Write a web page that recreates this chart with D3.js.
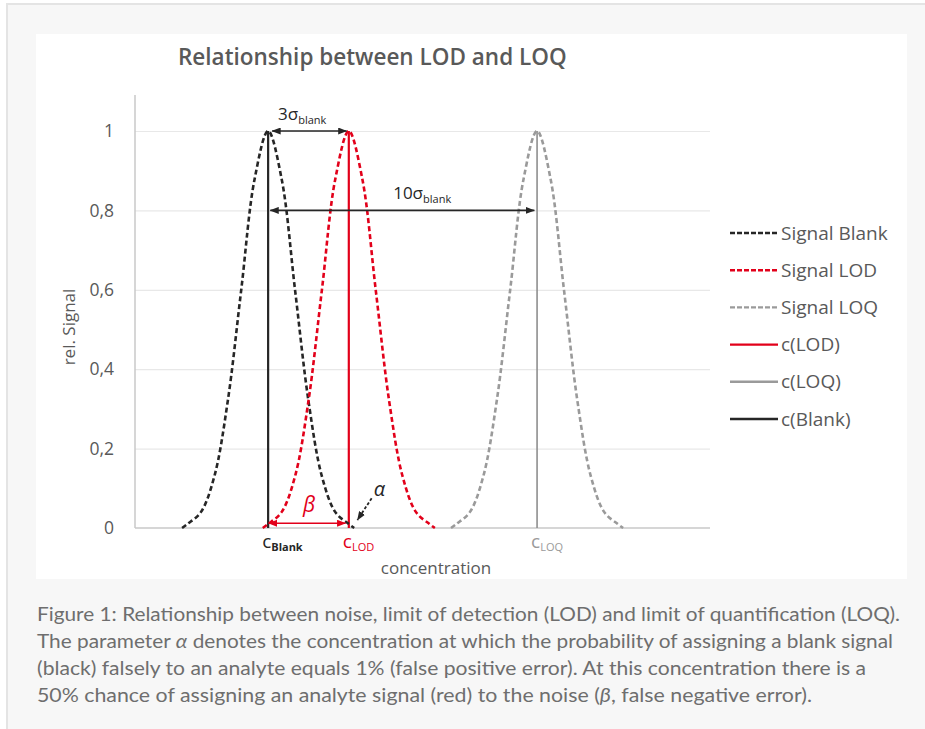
<!DOCTYPE html>
<html>
<head>
<meta charset="utf-8">
<script src="https://cdn.jsdelivr.net/npm/d3@7"></script>
<style>
	body { margin: 0; background: #fff; }
	svg { display: block; font-family: "Open Sans", Lato, sans-serif; }
</style>
</head>
<body>
<svg id="chart" width="925" height="729"></svg>
<script>

	// offsets from each peak centre (in sigma_blank) and the rel. signal read at them
	var sigmaOffsets = [-3.2, -3, -2.5, -2, -1.5, -1, -0.5, 0, 0.5, 1, 1.5, 2, 2.5, 3, 3.2];
	var signalBlank  = [0, 0.01, 0.04, 0.13, 0.32, 0.6, 0.88, 1, 0.88, 0.6, 0.32, 0.13, 0.04, 0.01, 0];
	var signalLOD    = [0, 0.01, 0.04, 0.13, 0.32, 0.6, 0.88, 1, 0.88, 0.6, 0.32, 0.13, 0.04, 0.01, 0];
	var signalLOQ    = [0, 0.01, 0.04, 0.13, 0.32, 0.6, 0.88, 1, 0.88, 0.6, 0.32, 0.13, 0.04, 0.01, 0];

	// peak centres on the concentration axis: blank, LOD, LOQ
	var concCentres = [0, 3, 10];

	var yTicks = [0, 0.2, 0.4, 0.6, 0.8, 1];
	var yTickLabels = ["0", "0,2", "0,4", "0,6", "0,8", "1"];

	var legendLabels = ["Signal Blank", "Signal LOD", "Signal LOQ", "c(LOD)", "c(LOQ)", "c(Blank)"];

	var captionLines = [
		["Figure 1: Relationship between noise, limit of detection (LOD) and limit of quantification (LOQ)."],
		["The parameter ", "α", " denotes the concentration at which the probability of assigning a blank signal"],
		["(black) falsely to an analyte equals 1% (false positive error). At this concentration there is a"],
		["50% chance of assigning an analyte signal (red) to the noise (", "β", ", false negative error)."]
	];
	var captionWidths = [863, 856, 829, 775];

	var BLACK = "#262626", RED = "#e2001a", GRAY = "#9a9a9a", TEXT = "#595959";

	var svg = d3.select("#chart");

	// page frame
	svg.append("rect").attr("x", 7).attr("y", 4).attr("width", 930).attr("height", 740)
		.attr("fill", "#f7f7f7").attr("stroke", "#e4e4e4").attr("stroke-width", 2);
	svg.append("rect").attr("x", 36).attr("y", 34).attr("width", 871).attr("height", 545)
		.attr("fill", "#fff");

	var x = d3.scaleLinear().domain([-4.95, 16.43]).range([135, 710]);
	var y = d3.scaleLinear().domain([0, 1]).range([528, 131]);

	var defs = svg.append("defs");
	function arrow_marker(id, color){
		defs.append("marker").attr("id", id)
			.attr("viewBox", "0 0 9 7").attr("refX", 8.5).attr("refY", 3.5)
			.attr("markerWidth", 9).attr("markerHeight", 7)
			.attr("markerUnits", "userSpaceOnUse")
			.attr("orient", "auto-start-reverse")
			.append("path").attr("d", "M0,0 L9,3.5 L0,7 Z").attr("fill", color);
	}
	arrow_marker("arr-black", BLACK);
	arrow_marker("arr-red", RED);

	// gridlines
	svg.append("g").attr("transform", "translate(135,0)")
		.call(d3.axisLeft(y).tickValues(yTicks.slice(1)).tickSize(-(710 - 135)).tickFormat(""))
		.call(function(g){ g.select(".domain").remove(); })
		.selectAll("line").attr("stroke", "#e8e8e8").attr("stroke-width", 1.2);

	// y tick labels
	svg.append("g").attr("transform", "translate(135,0)")
		.call(d3.axisLeft(y).tickValues(yTicks).tickSize(0).tickPadding(21)
			.tickFormat(function(d, i){ return yTickLabels[i]; }))
		.call(function(g){ g.select(".domain").remove(); })
		.selectAll("text").attr("fill", TEXT).style("font-size", "17.5px").style("font-family", "Open Sans");

	// axis lines
	svg.append("line").attr("x1", 135).attr("x2", 135).attr("y1", 95).attr("y2", y(0))
		.attr("stroke", "#c8c8c8").attr("stroke-width", 1.5);
	svg.append("line").attr("x1", 135).attr("x2", 710).attr("y1", y(0)).attr("y2", y(0))
		.attr("stroke", "#c8c8c8").attr("stroke-width", 1.5);

	// vertical concentration lines
	var vColors = [BLACK, RED, "#8e8e8e"];
	concCentres.forEach(function(c, i){
		svg.append("line").attr("x1", x(c)).attr("x2", x(c)).attr("y1", y(0)).attr("y2", y(1))
			.attr("stroke", vColors[i]).attr("stroke-width", i === 2 ? 1.6 : 2.2);
	});

	// signal curves
	var line = d3.line()
		.x(function(d){ return x(d[0]); })
		.y(function(d){ return y(d[1]); })
		.curve(d3.curveCatmullRom);

	var curves = [signalBlank, signalLOD, signalLOQ];
	var curveColors = [BLACK, RED, GRAY];
	curves.forEach(function(vals, i){
		var pts = sigmaOffsets.map(function(o, j){ return [concCentres[i] + o, vals[j]]; });
		svg.append("path").datum(pts).attr("d", line)
			.attr("fill", "none").attr("stroke", curveColors[i])
			.attr("stroke-width", 2.6).attr("stroke-dasharray", "5,3");
	});

	// 3 sigma arrow
	svg.append("line").attr("x1", x(0.15)).attr("x2", x(2.92)).attr("y1", y(1)).attr("y2", y(1))
		.attr("stroke", BLACK).attr("stroke-width", 1.6)
		.attr("marker-start", "url(#arr-black)").attr("marker-end", "url(#arr-black)");
	var t3 = svg.append("text").attr("x", x(0.37)).attr("y", y(1) - 11)
		.attr("fill", BLACK).style("font-size", "17px");
	t3.append("tspan").text("3σ");
	t3.append("tspan").attr("dy", 4).style("font-size", "11px").text("blank");

	// 10 sigma arrow
	svg.append("line").attr("x1", x(0.08)).attr("x2", x(9.9)).attr("y1", y(0.8)).attr("y2", y(0.8))
		.attr("stroke", BLACK).attr("stroke-width", 1.6)
		.attr("marker-start", "url(#arr-black)").attr("marker-end", "url(#arr-black)");
	var t10 = svg.append("text").attr("x", x(4.65)).attr("y", y(0.8) - 11)
		.attr("fill", BLACK).style("font-size", "17px");
	t10.append("tspan").text("10σ");
	t10.append("tspan").attr("dy", 4).style("font-size", "11px").text("blank");

	// beta arrow
	svg.append("line").attr("x1", x(0.02)).attr("x2", x(2.88)).attr("y1", y(0.012)).attr("y2", y(0.012))
		.attr("stroke", RED).attr("stroke-width", 1.6)
		.attr("marker-start", "url(#arr-red)").attr("marker-end", "url(#arr-red)");
	svg.append("text").attr("x", x(1.3)).attr("y", y(0.04))
		.attr("fill", RED).style("font-size", "21px").style("font-style", "italic").text("β");

	// alpha arrow
	svg.append("line").attr("x1", x(3.85)).attr("x2", x(3.32)).attr("y1", y(0.075)).attr("y2", y(0.02))
		.attr("stroke", BLACK).attr("stroke-width", 1.8).attr("stroke-dasharray", "3,2")
		.attr("marker-end", "url(#arr-black)");
	svg.append("text").attr("x", x(3.93)).attr("y", y(0.08))
		.attr("fill", BLACK).style("font-size", "20px").style("font-style", "italic").text("α");

	// concentration labels under the axis
	var cSubs = ["Blank", "LOD", "LOQ"];
	var cColors = [BLACK, RED, GRAY];
	concCentres.forEach(function(c, i){
		var t = svg.append("text").attr("x", x(c) - 6).attr("y", y(0) + 20)
			.attr("fill", cColors[i]).style("font-size", "19px");
		t.append("tspan").text("c");
		t.append("tspan").attr("dy", 3).style("font-size", "11px").style("font-weight", i === 0 ? "bold" : "normal").text(cSubs[i]);
	});

	// axis titles
	svg.append("text").attr("x", 436).attr("y", 574).attr("text-anchor", "middle")
		.attr("fill", TEXT).style("font-size", "17px").text("concentration");
	svg.append("text").attr("transform", "translate(75,327) rotate(-90)").attr("text-anchor", "middle")
		.attr("fill", TEXT).style("font-size", "17px").text("rel. Signal");

	// chart title
	svg.append("text").attr("x", 178).attr("y", 65)
		.attr("fill", TEXT).style("font-size", "22.5px").style("font-weight", "600")
		.text("Relationship between LOD and LOQ");

	// legend
	var legendStyles = [
		{ color: BLACK, dash: "5,2" }, { color: RED, dash: "5,2" }, { color: GRAY, dash: "5,2" },
		{ color: RED, dash: null }, { color: GRAY, dash: null }, { color: BLACK, dash: null }
	];
	var legend = svg.append("g").selectAll("g").data(legendLabels).enter().append("g")
		.attr("transform", function(d, i){ return "translate(730," + (233 + i * 37.2) + ")"; });
	legend.append("line").attr("x1", 0).attr("x2", 48)
		.attr("stroke", function(d, i){ return legendStyles[i].color; })
		.attr("stroke-width", 2.4)
		.attr("stroke-dasharray", function(d, i){ return legendStyles[i].dash; });
	legend.append("text").attr("x", 51).attr("dy", "0.35em")
		.attr("fill", TEXT).style("font-size", "19px").text(function(d){ return d; });

	// caption
	captionLines.forEach(function(parts, i){
		var t = svg.append("text").attr("x", 37).attr("y", 621 + i * 27)
			.attr("fill", "#6e6e6e").style("font-family", "Lato").style("font-size", "19.5px")
			.attr("textLength", captionWidths[i]).attr("lengthAdjust", "spacingAndGlyphs");
		parts.forEach(function(p){
			var s = t.append("tspan").text(p);
			if(p === "α" || p === "β"){ s.style("font-style", "italic"); }
		});
	});

</script>
</body>
</html>
